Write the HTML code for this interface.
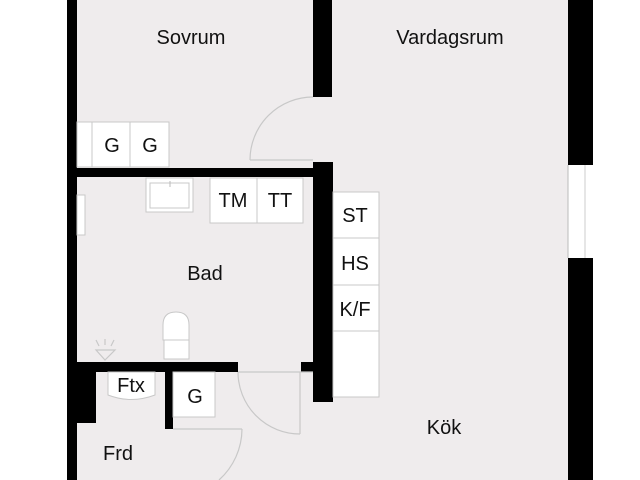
<!DOCTYPE html>
<html><head><meta charset="utf-8"><style>
html,body{margin:0;padding:0;background:#fff;width:640px;height:480px;overflow:hidden}
svg{display:block}
text{font-family:"Liberation Sans",sans-serif;font-size:20px;fill:#111}
</style></head><body>
<svg width="640" height="480" viewBox="0 0 640 480" xmlns="http://www.w3.org/2000/svg">
<rect x="67" y="0" width="526" height="480" fill="#efeced"/>
<!-- window -->
<rect x="568" y="165" width="25" height="93" fill="#fff"/>
<line x1="568" y1="165" x2="568" y2="258" stroke="#bbb" stroke-width="1"/>
<line x1="585" y1="165" x2="585" y2="258" stroke="#ccc" stroke-width="1"/>
<!-- walls -->
<g fill="#000">
<rect x="67" y="0" width="10" height="480"/>
<rect x="568" y="0" width="25" height="165"/>
<rect x="568" y="258" width="25" height="222"/>
<rect x="313" y="0" width="19" height="97"/>
<rect x="313" y="162" width="20" height="240"/>
<rect x="77" y="168" width="236" height="9"/>
<rect x="67" y="362" width="171" height="10"/>
<rect x="301" y="362" width="12" height="10"/>
<rect x="67" y="372" width="29" height="51"/>
<rect x="165" y="372" width="8" height="57"/>
</g>
<g fill="#fff" stroke="#c8c8c8" stroke-width="1">
<!-- wardrobes -->
<rect x="77" y="122" width="15" height="45"/>
<rect x="92" y="122" width="38" height="45"/>
<rect x="130" y="122" width="39" height="45"/>
<!-- sink -->
<rect x="146" y="178" width="47" height="34"/>
<rect x="150" y="183" width="39" height="25"/>
<!-- TM TT -->
<rect x="210" y="178" width="47" height="45"/>
<rect x="257" y="178" width="46" height="45"/>
<!-- kitchen -->
<rect x="333" y="192" width="46" height="46"/>
<rect x="333" y="238" width="46" height="47"/>
<rect x="333" y="285" width="46" height="46"/>
<rect x="333" y="331" width="46" height="66"/>
<!-- towel heater -->
<rect x="77" y="195" width="8" height="40"/>
<!-- G box -->
<rect x="173" y="372" width="42" height="45"/>
<!-- Ftx -->
<path d="M108 372 H155 V395 Q131 404 108 395 Z"/>
<!-- toilet -->
<path d="M163 340 V325 Q163 312 176 312 Q189 312 189 325 V340 Z"/>
<rect x="164" y="340" width="25" height="19"/>
</g>
<line x1="170" y1="181" x2="170" y2="187" stroke="#bbb"/>
<!-- doors -->
<g fill="none" stroke="#c8c8c8" stroke-width="1.2">
<path d="M250 160 A63 63 0 0 1 313 97"/>
<line x1="250" y1="160" x2="313" y2="160"/>
<path d="M238 372 A62 62 0 0 0 300 434"/>
<line x1="300" y1="372" x2="300" y2="434"/>
<line x1="238" y1="372" x2="313" y2="372"/>
<line x1="173" y1="429" x2="242" y2="429"/>
<path d="M242 429 A69 69 0 0 1 219 480"/>
<!-- vent -->
<path d="M96 350 H115 L105 360 Z"/>
<line x1="99" y1="346" x2="96" y2="340"/>
<line x1="105" y1="345" x2="105" y2="339"/>
<line x1="111" y1="346" x2="114" y2="340"/>
</g>
<text x="191" y="44" text-anchor="middle">Sovrum</text>
<text x="450" y="44" text-anchor="middle">Vardagsrum</text>
<text x="112" y="152" text-anchor="middle">G</text>
<text x="150" y="152" text-anchor="middle">G</text>
<text x="233" y="207" text-anchor="middle">TM</text>
<text x="280" y="207" text-anchor="middle">TT</text>
<text x="355" y="222" text-anchor="middle">ST</text>
<text x="355" y="270" text-anchor="middle">HS</text>
<text x="355" y="316" text-anchor="middle">K/F</text>
<text x="205" y="280" text-anchor="middle">Bad</text>
<text x="131" y="392" text-anchor="middle">Ftx</text>
<text x="195" y="403" text-anchor="middle">G</text>
<text x="118" y="460" text-anchor="middle">Frd</text>
<text x="444" y="434" text-anchor="middle">Kök</text>
</svg>
</body></html>
